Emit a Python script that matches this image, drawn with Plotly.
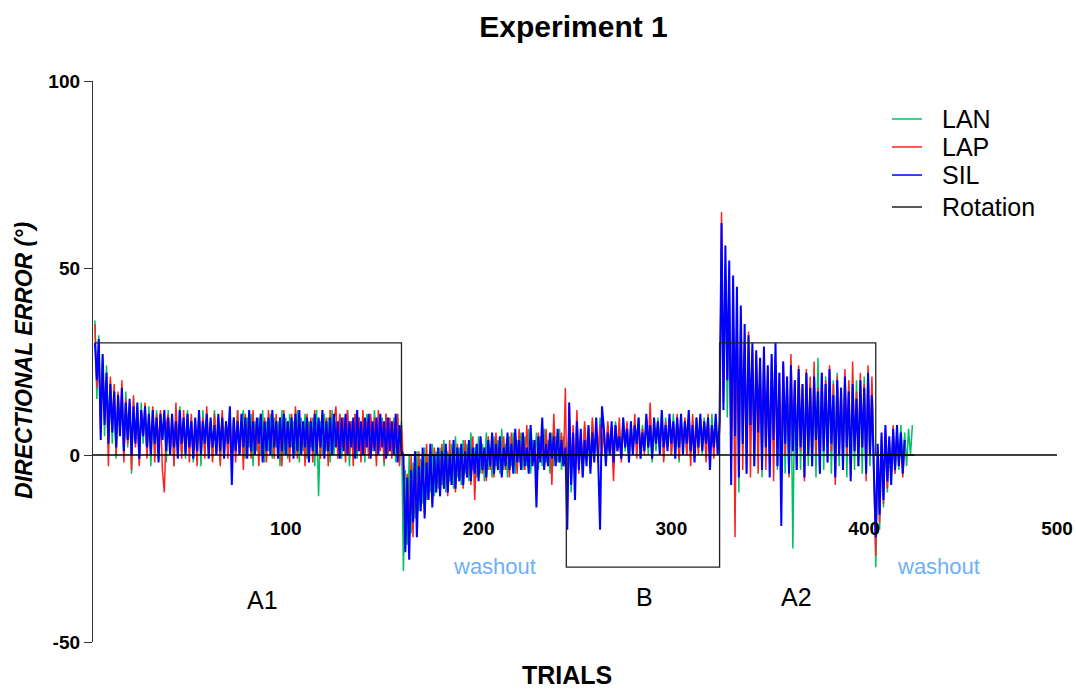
import plotly.graph_objects as go

# ---------------- data (degrees, one value per trial) ----------------
SIL_A1 = [30, 20, 31, 4, 27, 8, 22, 3, 19, 6,
          17, 2, 16, 5, 18, 1, 14, 4, 15, 0,
          13, 3, 14, -1, 12, 5, 13, 2, 11, 0,
          12, 3, 10, -2, 11, 4, 12, 1, 10, 0,
          11, 2, 9, -1, 12, 3, 10, 0, 11, 2,
          9, -1, 10, 1, 12, 0, 9, 3, 11, -1,
          10, 2, 8, 0, 11, 1, 10, -1, 9, 3,
          13, -8, 10, 1, 9, 0, 11, 2, 10, -1,
          12, 1, 9, 0, 10, 3, 11, -2, 9, 1,
          10, 0, 12, 2, 9, -1, 10, 1, 11, 0,
          9, 2, 10, -1, 11, 1, 12, 0, 9, 2,
          10, -2, 9, 1, 11, 0, 10, 2, 12, -1,
          9, 1, 10, 0, 11, 2, 9, -1, 10, 1,
          11, 0, 9, 2, 10, -1, 12, 1, 9, 0,
          10, 2, 11, -1, 9, 1, 10, 0, 11, 2,
          9, -1, 10, 1, 9, 0, 11, -2, 8, 1]
SIL_W1 = [0, -26, -6, -28, -4, -18, 1, -22, -3, -15,
          2, -17, -2, -12, 3, -14, 0, -10, 2, -11,
          1, -9, 3, -10, 0, -8, 4, -9, 2, -7,
          3, -8, 1, -6, 4, -7, 2, -5, 3, -7,
          5, -4, 2, -6, 4, -3, 6, -5, 3, -4,
          5, -6, 2, -3, 6, -4, 3, -5, 7, -2,
          4, -4, 6, -3, 2, -5, 8, -3, 4, -14,
          5, -2, 10, -4, 3, -3, 6, -1, 5, -3,
          7, -2, 4, -3, 2]
SIL_B = [-20, 14, -8, 6, -12, 9, -4, 7, -6, 4,
         -3, 8, -5, 6, -2, 10, -1, -20, 13, 7,
         -3, 6, 0, 9, -2, 8, 1, 5, -1, 10,
         2, 7, -2, 9, 0, 8, 3, 10, -1, 6,
         1, 11, 2, 8, -1, 10, 3, 9, 0, 12,
         2, 8, 1, 11, 3, 9, -1, 10, 2, 11,
         0, 9, 3, 12, 1, 8, -2, 10, 2, 11,
         1, 9, 3, 10, -4, 8, 2, 11, 0, 9]
SIL_A2 = [62, 12, 56, 20, 52, -8, 48, 5, 45, -6,
          40, 3, 35, -5, 32, 8, 30, -3, 28, 6,
          26, -4, 29, 2, 24, -6, 27, 4, 30, -3,
          22, -19, 25, 3, 21, -5, 24, 1, 20, -4,
          23, 2, 19, -6, 22, 0, 18, -3, 21, 4,
          17, -5, 22, 1, 19, -2, 23, 3, 16, -6,
          20, 0, 18, -4, 21, 2, 17, -7, 19, 1,
          15, -3, 20, 2, 18, -5, 22, 0, 16, -4]
SIL_W2 = [-22, 3, -16, 6, -12, 8, -7, 5, -8, 7, -4, 8, -3, 6, -5, 4]

LAP_A1 = [35, 18, 28, 6, 25, 10, 20, -3, 21, 8,
          19, 0, 17, 6, 20, -2, 15, 3, 14, -4,
          16, 2, 13, -3, 12, 5, 14, -1, 10, 2,
          13, -2, 11, 3, 12, -4, -10, 8, 11, 0,
          10, -3, 14, 2, 9, -1, 12, 1, 10, -2,
          11, 0, 9, -3, 12, 2, 10, -1, 13, 1,
          9, -2, 11, 0, 10, -3, 12, 2, 9, -1,
          11, 1, 10, -2, 12, 0, 9, -4, 11, 2,
          10, -1, 12, 1, 9, -3, 11, 0, 10, -2,
          12, 2, 9, -1, 11, 0, 10, -3, 12, 1,
          9, -2, 11, 0, 13, -1, 10, 2, 9, -3,
          11, 1, 10, -2, 12, 0, 9, -1, 11, 2,
          10, -3, 12, 0, 9, 13, -1, 11, 2, 10,
          -2, 12, 0, 9, -3, 11, 1, 10, -2, 12,
          0, 9, -1, 11, 2, 10, -3, 12, 1, 9,
          -2, 11, 0, 10, -1, 9, 2, 11, -3, 8]
LAP_W1 = [-3, -25, -5, -20, 0, -22, -2, -18, 1, -14,
          -1, -16, 3, -12, 0, -13, 2, -10, -1, -11,
          3, -9, 0, -11, 4, -8, 1, -10, 3, -7,
          0, -9, 4, -6, 2, -8, 5, -12, 3, -6,
          4, -5, 2, -7, 5, -4, 3, -6, 6, -3,
          2, -5, 5, -4, 3, -6, 6, -3, 4, -5,
          7, -2, 3, -4, 8, -3, 5, -2, 4, -4,
          6, -1, 3, -3, 7, -2, 5, -8, 11, -1,
          4, -2, 6, -3, 18]
LAP_B = [-16, 14, -6, 8, -3, 12, -5, 6, -2, 9,
         0, 7, -3, 10, 1, 6, -2, 8, 0, 7,
         -1, 9, 2, 5, -7, 8, 1, 10, -2, 7,
         3, 9, 0, 6, 2, 11, -1, 8, 3, 7,
         0, 10, 2, 14, -1, 8, 3, 9, 1, 11,
         -2, 9, 2, 10, 0, 8, 3, 11, -1, 9,
         2, 10, 0, 9, -3, 11, 2, 8, 0, 10,
         3, 9, -2, 11, 1, 8, -1, 10, 2, 6]
LAP_A2 = [65, 14, 48, 20, 44, 2, 42, -22, 38, 6,
          36, -4, 30, 5, 33, -6, 28, 2, 27, -5,
          25, 3, 28, -4, 23, 1, 26, -7, 24, 2,
          22, -3, 25, 0, 21, -6, 27, 3, 20, -4,
          24, 1, 19, -7, 23, 2, 21, -3, 25, 0,
          18, -5, 22, 3, 20, -2, 24, 1, 19, -8,
          21, 2, 18, -4, 23, 0, 20, -6, 25, 1,
          17, -3, 22, 2, 19, -7, 24, 0, 21, -5]
LAP_W2 = [-27, 2, -18, 5, -13, 7, -9, 4, -6, 8, -5, 7, -3, 5, -6, 3]

LAN_A1 = [36, 15, 32, 10, 27, 5, 24, 8, 20, 3,
          18, -1, 16, 6, 14, 0, 17, 2, 13, -5,
          15, 4, 12, -2, 14, 3, 11, 0, 13, -3,
          10, 2, 12, -1, 11, 4, 9, -2, 12, 1,
          10, -3, 11, 2, 13, 0, 9, -1, 12, 3,
          10, -2, 9, 1, 11, -3, 12, 0, 10, 2,
          9, -1, 12, 1, 10, -2, 11, 3, 9, 0,
          11, -2, 10, 1, 12, 0, 9, 12, -1, 10,
          2, 11, -3, 9, 1, 10, 0, 12, -2, 9,
          1, 11, -1, 10, 2, 9, -3, 12, 0, 10,
          -1, 11, 2, 9, 0, 12, -2, 10, 1, 11,
          -1, 9, 2, 10, -3, 12, -11, 9, 0, 11,
          1, 10, -2, 12, 0, 9, 2, 11, -1, 10,
          0, 12, -3, 9, 1, 11, -1, 10, 2, 9,
          -2, 11, 0, 10, 1, 12, -1, 9, 2, 10,
          -3, 11, 0, 9, 1, 10, -2, 11, 0, 9]
LAN_W1 = [-31, -4, -24, 0, -21, -2, -17, 1, -15, -1,
          -13, 2, -12, 0, -10, 3, -11, 1, -9, 2,
          -8, 4, -10, 1, -7, 3, -9, 5, -6, 2,
          -8, 4, -5, 3, -7, 6, -4, 2, -6, 5,
          -5, 3, -7, 6, -4, 2, -6, 5, -3, 4,
          -5, 7, -4, 3, -6, 5, -3, 6, -5, 4,
          -2, 6, -4, 5, -3, 7, -5, 4, -2, 6,
          -4, 5, -3, 7, -2, 4, -5, 6, -3, 5,
          -2, 7, -4, 5, 2]
LAN_B = [-5, 8, -10, 6, -4, 9, -2, 5, -6, 8,
         -1, 7, -3, 9, 0, 6, -2, 10, 1, 7,
         -2, 8, 0, 6, -3, 9, 2, 7, -1, 10,
         1, 8, -2, 9, 0, 7, 3, 10, -1, 8,
         2, 9, 0, 11, -2, 8, 1, 10, 3, 9,
         -1, 10, 2, 8, 0, 11, 1, 9, -2, 10,
         2, 8, 0, 11, 1, 9, -1, 10, 3, 8,
         0, 10, 2, 9, -1, 11, 1, 8, 3, 9]
LAN_A2 = [55, 18, 50, 10, 46, -4, 40, 8, 36, -10,
          34, 2, 30, -5, 28, 4, 26, -3, 25, 6,
          23, -6, 26, 2, 21, -3, 24, 5, 22, -4,
          20, 1, 23, -5, 19, 3, 22, -25, 20, 0,
          21, -4, 18, 2, 22, -3, 19, 1, 20, -6,
          26, 0, 18, -4, 21, 3, 17, -5, 20, 1,
          22, -3, 18, 2, 21, -6, 19, 0, 17, -4,
          20, 1, 18, -5, 21, 2, 17, -3, 19, 0]
LAN_W2 = [-30, 1, -20, 4, -14, 6, -10, 3, -7, 7,
          -5, 5, -4, 8, -2, 6, -3, 7, 0, 8]

# rotation schedule: level and trial where each phase starts
ROT_LEVELS = [30, 0, -30, 30, 0, 0]
ROT_STARTS = [1, 160, 245.5, 325, 406, 426]

PHASE_LABELS = ["A1", "washout", "B", "A2", "washout"]
PHASE_X = [87.7, 208.5, 286.3, 365, 438.3]
PHASE_Y = [-38.8, -29.7, -38.0, -38.0, -29.7]
PHASE_COLORS = ["black", "#6cb0fa", "black", "black", "#6cb0fa"]
PHASE_SIZES = [25, 22, 25, 25, 22]

X_RANGE = [0, 500]
X_TICKS = [100, 200, 300, 400, 500]
Y_TICKS = [-50, 0, 50, 100]
Y_TICKTEXT = ["-50", "0", "50", "100"]

SERIES_NAMES = ["LAN", "LAP", "SIL", "Rotation"]
SERIES_COLORS = ["#00c060", "#ff2020", "#0000ff", "#222222"]

LAN = LAN_A1 + LAN_W1 + LAN_B + LAN_A2 + LAN_W2
LAP = LAP_A1 + LAP_W1 + LAP_B + LAP_A2 + LAP_W2
SIL = SIL_A1 + SIL_W1 + SIL_B + SIL_A2 + SIL_W2

FONT = "Liberation Sans, Arial, sans-serif"

fig = go.Figure()
widths = [1.5, 1.5, 2.0]
for name, vals, col, w in zip(SERIES_NAMES[:3], [LAN, LAP, SIL], SERIES_COLORS[:3], widths):
    fig.add_trace(go.Scatter(
        x=list(range(1, len(vals) + 1)), y=vals, mode="lines", name=name,
        line=dict(color=col, width=w), showlegend=False))

fig.add_trace(go.Scatter(
    x=ROT_STARTS, y=ROT_LEVELS, mode="lines", name="Rotation",
    line=dict(color=SERIES_COLORS[3], width=1.3, shape="hv"), showlegend=False))

# horizontal axis line at zero, drawn over the data as in the original
fig.add_shape(type="line", xref="x", yref="y", x0=X_RANGE[0], x1=X_RANGE[1],
              y0=0, y1=0, layer="above", line=dict(color="black", width=1.3))

# legend drawn as line samples + labels (compact spacing as in the original)
LEG_Y = [0.9323, 0.8824, 0.8324, 0.7754]
for name, col, ly in zip(SERIES_NAMES, SERIES_COLORS, LEG_Y):
    fig.add_shape(type="line", xref="paper", yref="paper",
                  x0=0.8288, x1=0.86, y0=ly, y1=ly,
                  line=dict(color=col, width=1.5))
    fig.add_annotation(xref="paper", yref="paper", x=0.8786, y=ly,
                       xanchor="left", yanchor="middle", text=name, showarrow=False,
                       font=dict(family=FONT, size=25, color="black"))

for txt, px, py, c, s in zip(PHASE_LABELS, PHASE_X, PHASE_Y, PHASE_COLORS, PHASE_SIZES):
    fig.add_annotation(x=px, y=py, text=txt, showarrow=False,
                       xanchor="center", yanchor="middle",
                       font=dict(family=FONT, size=s, color=c))

fig.add_annotation(xref="paper", yref="paper", x=0.4917, y=-0.0588,
                   text="TRIALS", showarrow=False, yanchor="middle",
                   font=dict(family=FONT, size=25, color="black", weight="bold"))
fig.add_annotation(xref="paper", yref="paper", x=-0.0716, y=0.5027,
                   text="<i>DIRECTIONAL ERROR (°)</i>", showarrow=False,
                   textangle=-90, xanchor="center", yanchor="middle",
                   font=dict(family=FONT, size=23, color="black", weight="bold"))

fig.update_layout(
    width=1076, height=690,
    margin=dict(l=93, r=19, t=81, b=48),
    paper_bgcolor="white", plot_bgcolor="white",
    title=dict(text="Experiment 1", x=0.4985, xref="paper", xanchor="center",
               y=0.9623, yanchor="middle",
               font=dict(family=FONT, size=30, color="black", weight="bold")),
    font=dict(family=FONT, color="black"),
    showlegend=False,
    xaxis=dict(range=X_RANGE, tickvals=X_TICKS, ticks="", showline=False,
               showgrid=False, zeroline=False, anchor="free", position=0.2255,
               automargin=False,
               tickfont=dict(family=FONT, size=19, color="black", weight="bold")),
    yaxis=dict(range=[-50, 100], tickvals=Y_TICKS, ticktext=Y_TICKTEXT,
               ticks="outside", ticklen=8,
               tickcolor="#333333", showline=True, linecolor="#333333", linewidth=1.3,
               showgrid=False, zeroline=False,
               automargin=False,
               tickfont=dict(family=FONT, size=19, color="black", weight="bold")),
)

fig.write_html("out.html")
